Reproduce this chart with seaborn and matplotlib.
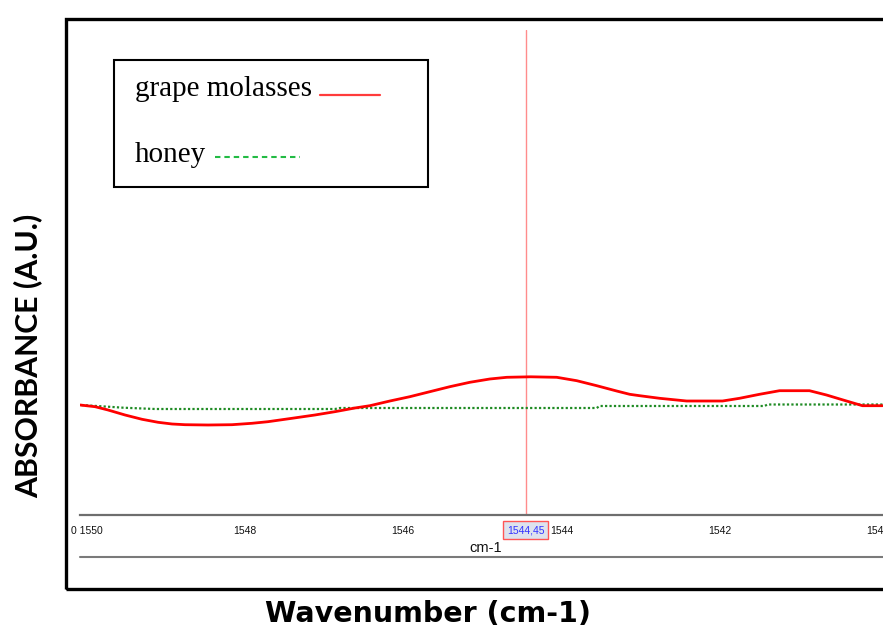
import matplotlib
matplotlib.use("Agg")
import matplotlib.pyplot as plt
import pandas as pd
import seaborn as sns
from matplotlib.lines import Line2D
from matplotlib.patches import Rectangle
from matplotlib.transforms import blended_transform_factory

# FTIR spectra around 1550-1540 cm-1 (absorbance, arbitrary units)
molasses_wn = [1550.088, 1549.899, 1549.735, 1549.520, 1549.305, 1549.102, 1548.925,
               1548.761, 1548.470, 1548.167, 1547.914, 1547.712, 1547.408, 1547.118,
               1546.865, 1546.612, 1546.422, 1546.169, 1545.917, 1545.664, 1545.411,
               1545.158, 1544.905, 1544.690, 1544.387, 1544.058, 1543.805, 1543.552,
               1543.300, 1543.135, 1543.009, 1542.756, 1542.415, 1541.960, 1541.745,
               1541.492, 1541.239, 1540.860, 1540.645, 1540.392, 1540.190, 1539.937]
molasses_abs = [0.1100, 0.1083, 0.1050, 0.1000, 0.0957, 0.0927, 0.0910,
                0.0903, 0.0900, 0.0903, 0.0917, 0.0933, 0.0967, 0.1000,
                0.1033, 0.1070, 0.1093, 0.1140, 0.1183, 0.1233, 0.1283,
                0.1327, 0.1360, 0.1377, 0.1382, 0.1377, 0.1343, 0.1293,
                0.1240, 0.1207, 0.1193, 0.1167, 0.1140, 0.1140, 0.1167,
                0.1207, 0.1243, 0.1243, 0.1200, 0.1140, 0.1093, 0.1093]

honey_wn = [1550.088, 1549.735, 1549.545, 1549.140, 1546.865, 1546.802,
            1543.552, 1543.515, 1541.429, 1541.391, 1539.937]
honey_abs = [0.1100, 0.1083, 0.1073, 0.1060, 0.1060, 0.1070,
             0.1070, 0.1090, 0.1090, 0.1105, 0.1105]

tick_values = [1550, 1548, 1546, 1544, 1542, 1540]
tick_labels = ["0 1550", "1548", "1546", "1544", "1542", "1540"]
cursor_wn = 1544.45
cursor_label = "1544,45"

sns.set_style("white")
plt.rcParams["font.family"] = ["Liberation Sans", "DejaVu Sans"]

W, H = 883, 631
fig = plt.figure(figsize=(W / 100, H / 100), dpi=100)
fig.patch.set_facecolor("white")


def fx(x):
    return x / W


def fy(y):
    return 1 - y / H


ax = fig.add_axes([fx(80), fy(515), (883 - 80) / W, (515 - 30) / H])
ax.set_facecolor("white")

honey = pd.DataFrame({"wn": honey_wn, "abs": honey_abs})
molasses = pd.DataFrame({"wn": molasses_wn, "abs": molasses_abs})

ax.axvline(cursor_wn, color="#ff8c8c", lw=1.0, zorder=1)
sns.lineplot(data=honey, x="wn", y="abs", ax=ax, color="#1f8b24",
             linestyle=(0, (1, 1)), lw=1.6, zorder=2)
sns.lineplot(data=molasses, x="wn", y="abs", ax=ax, color="#ff0000",
             lw=2.0, zorder=3)

ax.set_xlim(1550.09, 1539.93)
ax.set_ylim(0, 0.485)
ax.set_yticks([])
ax.set_xticks(tick_values)
ax.set_xticklabels(tick_labels)
ax.tick_params(axis="x", direction="inout", length=5, width=1, color="#6e6e6e",
               labelsize=7.5, pad=5.5, labelcolor="#111111")
for side in ("left", "top", "right"):
    ax.spines[side].set_visible(False)
ax.spines["bottom"].set_color("#6e6e6e")
ax.spines["bottom"].set_linewidth(1.6)

ax.set_xlabel("cm-1", fontsize=10.5, color="#111111")
ax.xaxis.set_label_coords((486 - 80) / 803, -0.054, transform=ax.transAxes)
ax.set_ylabel("")

# cursor readout under the axis
trans = blended_transform_factory(ax.transData, ax.transAxes)
ax.text(cursor_wn, -0.031, cursor_label, transform=trans, ha="center", va="center",
        fontsize=7.5, color="#3333ff", clip_on=False,
        bbox=dict(boxstyle="square,pad=0.35", fc="#dde2ee", ec="#ff5555", lw=1))

# rule under the axis title
fig.add_artist(Line2D([fx(80), 1.0], [fy(557), fy(557)], transform=fig.transFigure,
                      color="#7a7a7a", lw=1.5))

# outer frame
fig.add_artist(Rectangle((fx(66), fy(588.5)), fx(905) - fx(66), (588.5 - 18.5) / H,
                         transform=fig.transFigure, fill=False, ec="black", lw=2.4,
                         clip_on=False))

# legend box
fig.add_artist(Rectangle((fx(114), fy(187)), fx(428) - fx(114), (187 - 60) / H,
                         transform=fig.transFigure, fill=False, ec="black", lw=1.5))
serif = ["Liberation Serif", "DejaVu Serif"]
fig.text(fx(135), fy(96), "grape molasses", family=serif, fontsize=21, va="baseline",
         color="black")
fig.text(fx(135), fy(162), "honey", family=serif, fontsize=21, va="baseline",
         color="black")
fig.add_artist(Line2D([fx(320), fx(380)], [fy(95), fy(95)], transform=fig.transFigure,
                      color="#ff3b3b", lw=1.6))
fig.add_artist(Line2D([fx(215), fx(300)], [fy(156.5), fy(156.5)], transform=fig.transFigure,
                      color="#22bb44", lw=1.5, linestyle=(0, (2.6, 1.9))))

# axis titles
fig.supylabel("ABSORBANCE (A.U.)", x=fx(28), y=fy(356), ha="center", va="center",
              family=["Lato", "DejaVu Sans"], fontweight="bold",
              fontsize=21.8, color="black")
fig.supxlabel("Wavenumber (cm-1)", x=fx(428), y=fy(614), ha="center", va="center",
              family=["DejaVu Sans"], fontweight="bold", fontsize=20.5, color="black")

fig.savefig("out.png", dpi=100)
